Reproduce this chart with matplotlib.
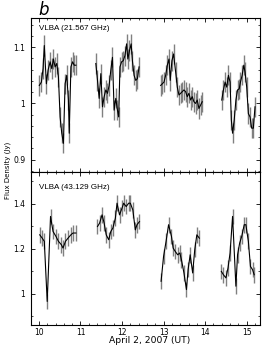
import matplotlib
matplotlib.use("Agg")
import matplotlib.pyplot as plt
from matplotlib.ticker import MultipleLocator, FuncFormatter

# ---- data: 21.567 GHz (top panel) ----
k_t1 = [10.01, 10.06, 10.10, 10.13, 10.18, 10.22, 10.27, 10.31, 10.35, 10.39, 10.43, 10.47,
        10.51, 10.55, 10.59, 10.63, 10.67, 10.71, 10.73, 10.77, 10.81, 10.85, 10.89]
k_v1 = [1.032, 1.038, 1.062, 1.103, 1.035, 1.059, 1.074, 1.062, 1.079, 1.065, 1.071, 1.047,
        0.976, 0.947, 0.929, 1.035, 1.050, 1.006, 0.947, 1.065, 1.074, 1.068, 1.068]
k_t2 = [11.37, 11.41, 11.45, 11.49, 11.53, 11.57, 11.61, 11.65, 11.69, 11.73, 11.77, 11.81,
        11.85, 11.89, 11.92, 11.95, 11.99, 12.03, 12.07, 12.11, 12.14, 12.18, 12.22, 12.25,
        12.29, 12.33, 12.37, 12.41]
k_v2 = [1.071, 1.041, 1.009, 1.053, 0.994, 1.012, 1.024, 1.018, 1.032, 1.059, 1.082, 0.988,
        1.009, 0.988, 0.976, 1.065, 1.074, 1.076, 1.085, 1.106, 1.079, 1.094, 1.106, 1.076,
        1.050, 1.041, 1.044, 1.065]
k_t3 = [12.93, 12.97, 13.01, 13.05, 13.09, 13.13, 13.16, 13.20, 13.24, 13.29, 13.33, 13.37,
        13.41, 13.45, 13.49, 13.53, 13.57, 13.61, 13.65, 13.69, 13.73, 13.77, 13.81, 13.85,
        13.89, 13.93]
k_v3 = [1.032, 1.035, 1.038, 1.050, 1.068, 1.079, 1.041, 1.076, 1.088, 1.056, 1.029, 1.015,
        1.018, 1.021, 1.024, 1.021, 1.012, 1.018, 1.006, 1.012, 1.003, 1.000, 1.006, 0.991,
        0.997, 1.003]
k_t4 = [14.40, 14.44, 14.48, 14.52, 14.56, 14.60, 14.63, 14.66, 14.70, 14.74, 14.78, 14.82,
        14.85, 14.89, 14.93, 14.96, 15.00, 15.04, 15.08, 15.12, 15.16, 15.20]
k_v4 = [1.006, 1.024, 1.038, 1.029, 1.050, 1.038, 0.971, 0.947, 0.971, 1.006, 1.024, 1.026,
        1.038, 1.050, 1.068, 1.056, 1.029, 0.982, 0.976, 0.956, 0.956, 0.994]
k_err = 0.018

# ---- data: 43.129 GHz (bottom panel) ----
q_t1 = [10.02, 10.08, 10.13, 10.20, 10.28, 10.34, 10.41, 10.47, 10.54, 10.58, 10.64, 10.70,
        10.77, 10.82, 10.89]
q_v1 = [1.262, 1.247, 1.233, 0.965, 1.344, 1.277, 1.255, 1.233, 1.218, 1.203, 1.233, 1.247,
        1.262, 1.270, 1.270]
q_t2 = [11.41, 11.46, 11.52, 11.57, 11.62, 11.68, 11.73, 11.78, 11.84, 11.88, 11.94, 12.00,
        12.04, 12.10, 12.16, 12.20, 12.26, 12.32, 12.36, 12.42]
q_v2 = [1.299, 1.314, 1.351, 1.314, 1.262, 1.240, 1.277, 1.292, 1.336, 1.403, 1.351, 1.381,
        1.403, 1.388, 1.403, 1.403, 1.373, 1.284, 1.307, 1.321]
q_t3 = [12.94, 13.00, 13.06, 13.12, 13.19, 13.23, 13.28, 13.34, 13.39, 13.43, 13.49, 13.55,
        13.59, 13.64, 13.70, 13.75, 13.80, 13.86]
q_v3 = [1.055, 1.166, 1.233, 1.307, 1.255, 1.203, 1.188, 1.173, 1.181, 1.151, 1.092, 1.018,
        1.107, 1.173, 1.092, 1.196, 1.262, 1.247]
q_t4 = [14.39, 14.44, 14.50, 14.55, 14.60, 14.66, 14.74, 14.78, 14.83, 14.88, 14.94, 14.98,
        15.04, 15.09, 15.14, 15.18]
q_v4 = [1.099, 1.084, 1.070, 1.114, 1.181, 1.344, 1.033, 1.173, 1.225, 1.255, 1.307, 1.307,
        1.233, 1.121, 1.107, 1.084]
q_err = 0.035

top_label = "VLBA (21.567 GHz)"
bot_label = "VLBA (43.129 GHz)"
xlabel = "April 2, 2007 (UT)"
ylabel = "Flux Density (Jy)"
panel_letter = "b"

plt.rcParams['font.family'] = ['DejaVu Sans']
narrow = ['Liberation Sans Narrow', 'Liberation Sans', 'DejaVu Sans']

fig = plt.figure(figsize=(2.62, 3.46), dpi=100)
L, R = 31 / 262, 260 / 262
ax1 = fig.add_axes([L, 1 - 172 / 346, R - L, (172 - 18) / 346])
ax2 = fig.add_axes([L, 1 - 325 / 346, R - L, (325 - 172) / 346], sharex=ax1)

def draw(ax, segs, err):
    for t, v in segs:
        ax.errorbar(t, v, yerr=err, fmt='none', ecolor='#808080', elinewidth=1.0, capsize=0)
        ax.plot(t, v, color='black', lw=0.8)

draw(ax1, [(k_t1, k_v1), (k_t2, k_v2), (k_t3, k_v3), (k_t4, k_v4)], k_err)
draw(ax2, [(q_t1, q_v1), (q_t2, q_v2), (q_t3, q_v3), (q_t4, q_v4)], q_err)

ax1.set_xlim(9.81, 15.32)
ax1.set_ylim(0.878, 1.152)
ax2.set_ylim(0.86, 1.542)

ax1.yaxis.set_major_locator(MultipleLocator(0.1))
ax1.yaxis.set_minor_locator(MultipleLocator(0.02))
ax2.yaxis.set_major_locator(MultipleLocator(0.2))
ax2.yaxis.set_minor_locator(MultipleLocator(0.1))
ax2.xaxis.set_major_locator(MultipleLocator(1))
ax2.xaxis.set_minor_locator(MultipleLocator(0.2))

fmt = lambda v, p: ('%g' % round(v, 2))
ax1.yaxis.set_major_formatter(FuncFormatter(fmt))
ax2.yaxis.set_major_formatter(FuncFormatter(fmt))

for ax in (ax1, ax2):
    ax.tick_params(which='both', direction='in', top=True, right=True, labelsize=5.5)
    ax.tick_params(axis='y', pad=4)
    ax.tick_params(axis='x', pad=2.5)
    ax.tick_params(which='major', length=3, width=0.6)
    ax.tick_params(which='minor', length=1.6, width=0.5)
    for s in ax.spines.values():
        s.set_linewidth(0.8)
ax1.tick_params(labelbottom=False)

ax1.text(0.035, 0.93, top_label, transform=ax1.transAxes, fontsize=5.8, family=narrow,
         va='center', ha='left')
ax2.text(0.035, 0.9, bot_label, transform=ax2.transAxes, fontsize=5.8, family=narrow,
         va='center', ha='left')
fig.text(150 / 262, 1 - 340.5 / 346, xlabel, fontsize=6.6, ha='center', va='center')
fig.text(8 / 262, 1 - 170 / 346, ylabel, rotation=90, fontsize=5, ha='center', va='center')
fig.text(38 / 262, 1 - 10 / 346, panel_letter, fontsize=12, style='italic', ha='left', va='center')

fig.savefig("out.png", dpi=100)
